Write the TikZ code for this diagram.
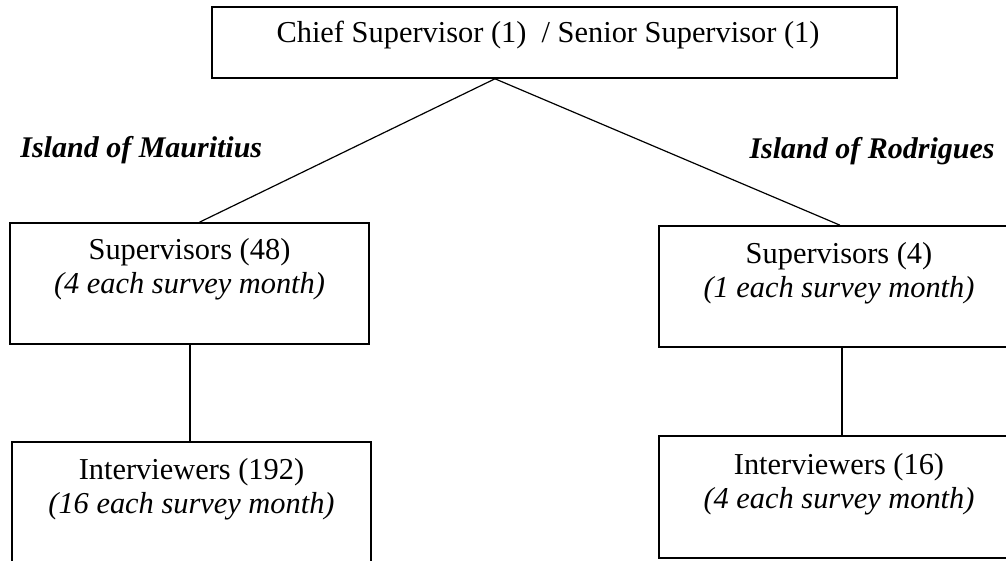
\documentclass[tikz,border=0pt]{standalone}
\usepackage{fontspec}
\setmainfont{Liberation Serif}
\usetikzlibrary{calc}

\begin{document}
\begin{tikzpicture}[x=0.5pt, y=-0.5pt,
  box/.style={draw, line width=0.8pt, inner sep=0pt},
  txt/.style={align=center, inner sep=0pt, font=\fontsize{15.2}{16.8}\selectfont},
  isle/.style={inner sep=0pt, font=\fontsize{15}{17}\selectfont\bfseries\itshape},
  link/.style={line width=0.6pt}]

\useasboundingbox (0,0) rectangle (1006,561);
\clip (0,0) rectangle (1006,561);

% top level
\node[box, minimum width=342.5pt, minimum height=35.5pt] (chief) at (554.5,42.5) {};
\node[txt, anchor=base] (chieft) at (548,43) {Chief Supervisor (1)\ \ / Senior Supervisor (1)};
\coordinate (apex) at ([xshift=-29.75pt]chief.south);

% island headings
\node[isle, anchor=base west] (maur) at (20,158) {Island of Mauritius};
\node[isle, anchor=base east] (rodr) at (995,159) {Island of Rodrigues};

% Mauritius (base = last line)
\node[box, minimum width=179.5pt, minimum height=60.5pt] (lsup) at (189.5,283.5) {};
\node[txt, anchor=base] (lsupt) at (189.5,293) {Supervisors (48)\\\textit{(4 each survey month)}};
\node[box, minimum width=179.5pt, minimum height=61pt] (lint) at (191.5,503) {};
\node[txt, anchor=base] (lintt) at (191.5,513) {Interviewers (192)\\\textit{(16 each survey month)}};

% Rodrigues
\node[box, minimum width=180pt, minimum height=60.5pt] (rsup) at (839,286.5) {};
\node[txt, anchor=base] (rsupt) at (839,297) {Supervisors (4)\\\textit{(1 each survey month)}};
\node[box, minimum width=180pt, minimum height=61pt] (rint) at (839,497) {};
\node[txt, anchor=base] (rintt) at (839,508) {Interviewers (16)\\\textit{(4 each survey month)}};

% links
\draw[link] (apex) -- ([xshift=5pt]lsup.north);
\draw[link] (apex) -- ([xshift=0.5pt]rsup.north);
\draw[link] ([xshift=0.25pt]lsup.south) -- ([xshift=0.25pt]lsup.south |- lint.north);
\draw[link] ([xshift=1.5pt]rsup.south) -- ([xshift=1.5pt]rsup.south |- rint.north);

\end{tikzpicture}
\end{document}
